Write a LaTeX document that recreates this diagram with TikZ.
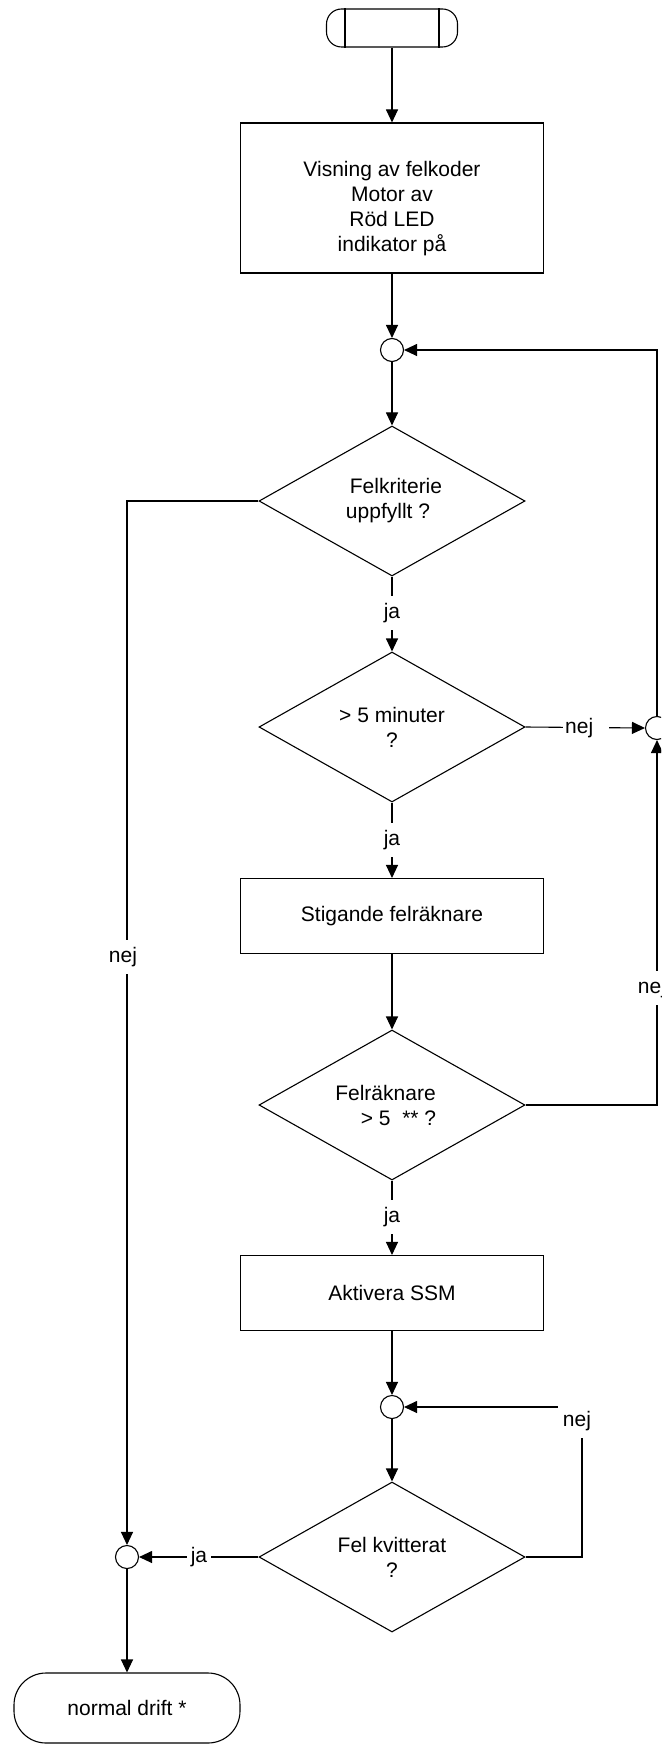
\documentclass[tikz,border=0pt]{standalone}
\usepackage{fontspec}
\setmainfont{Liberation Sans}
\usetikzlibrary{arrows.meta,shapes.geometric}
\begin{document}
\begin{tikzpicture}[x=1pt,y=-1pt,
  every node/.style={font=\fontsize{21}{25}\selectfont},
  plain/.style={line width=1.1pt},
  flow/.style={line width=1.1pt,-{Triangle[length=13pt,width=12pt]}},
  proc/.style={draw,line width=1.1pt,minimum width=303pt,align=center,inner sep=0pt},
  dec/.style={draw,line width=1.1pt,diamond,aspect=2,minimum width=266pt,minimum height=150pt,inner sep=0pt,align=center},
  junc/.style={draw,line width=1.1pt,circle,minimum size=23pt,inner sep=0pt},
  term/.style={draw,line width=1.1pt,inner sep=0pt},
  lab/.style={fill=white,inner xsep=3pt,inner ysep=7pt}]
\useasboundingbox (0,0) rectangle (661,1744);
\clip (0,0) rectangle (661,1744);

% start terminal with inner bars
\node[term,rounded corners=15pt,minimum width=131pt,minimum height=38pt] (start) at (392,28) {};
\draw[plain] ([xshift=-47pt]start.north) -- ([xshift=-47pt]start.south);
\draw[plain] ([xshift=47pt]start.north) -- ([xshift=47pt]start.south);

% process boxes
\node[proc,minimum height=150pt] (b1) at (392,198) {};
\node[align=center] (b1t) at ([yshift=-11pt]b1.center) {Visning av felkoder\\Motor av\\Röd LED\\indikator på};
\node[proc,minimum height=75pt] (b2) at (392,916) {Stigande felräknare};
\node[proc,minimum height=75pt] (b3) at (392,1293) {Aktivera SSM};

% decisions
\node[dec] (d1) at (392,501) {\hspace*{8pt}Felkriterie\\uppfyllt ?\hspace*{8pt}};
\node[dec] (d2) at (392,727) {> 5 minuter\\?};
\node[dec] (d3) at (392,1105) {Felräknare\hspace*{13pt}\\\hspace*{13pt}> 5\ \ ** ?};
\node[dec] (d4) at (392,1557) {Fel kvitterat\\?};

% junction circles
\node[junc] (c1) at (392,350) {};
\node[junc] (c2) at (657,728) {};
\node[junc] (c3) at (392,1407) {};
\node[junc] (c4) at (127,1557) {};

% end terminal
\node[term,rounded corners=32pt,minimum width=226pt,minimum height=70pt] (end) at (127,1708) {normal drift *};

\coordinate (k4) at (582,1557);

% connectors
\draw[flow] (start) -- (b1);
\draw[flow] (b1) -- (c1);
\draw[flow] (c1) -- (d1);
\draw[flow] (d1.west) -| (c4.north);
\draw[flow] (d1.south) -- (d2.north);
\draw[flow] (d2.east) -- (c2.west);
\draw[flow] (c2.north) |- (c1.east);
\draw[flow] (d2.south) -- (b2.north);
\draw[flow] (b2) -- (d3);
\draw[flow] (d3.east) -| (c2.south);
\draw[flow] (d3.south) -- (b3.north);
\draw[flow] (b3) -- (c3);
\draw[flow] (c3) -- (d4);
\draw[flow] (d4.east) -- (k4) |- (c3.east);
\draw[flow] (d4.west) -- (c4.east);
\draw[flow] (c4) -- (end);

% connector labels
\node[lab] (l1) at (123,957) {nej};
\node[lab] (l2) at (392,613) {ja};
\node[lab,anchor=west,inner xsep=2pt,text width=42pt,align=left] (l3) at (563,728) {nej};
\node[lab] (l4) at (392,840) {ja};
\node[lab] (l5) at (652,988) {nej};
\node[lab] (l6) at (392,1217) {ja};
\node[fill=white,minimum width=38pt,minimum height=34pt,inner sep=0pt] (l7) at (577,1421) {nej};
\node[lab,inner xsep=4pt] (l8) at (199,1557) {ja};
\end{tikzpicture}
\end{document}
